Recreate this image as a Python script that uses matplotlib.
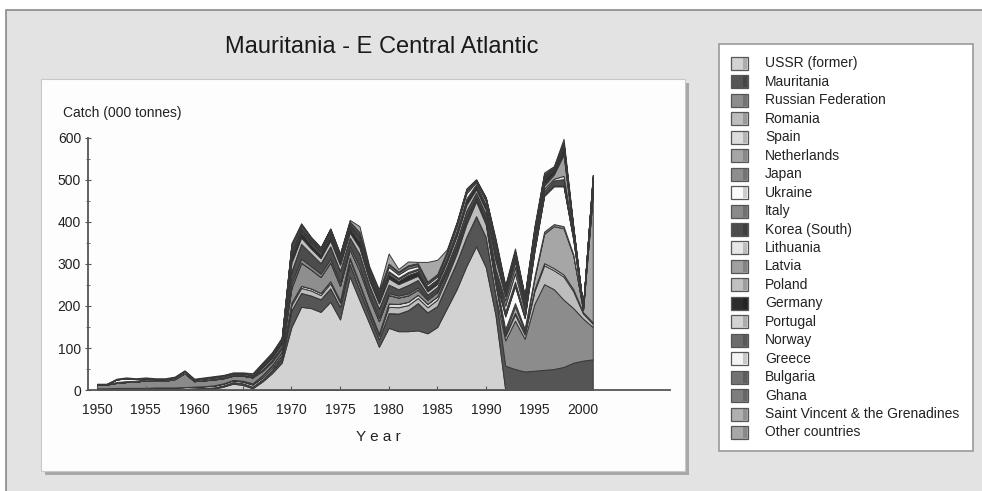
import matplotlib
matplotlib.use("Agg")
import matplotlib.pyplot as plt
from matplotlib.patches import Rectangle

# ---- data (000 tonnes), years 1950-2001 ----
years = list(range(1950, 2002))

ussr = [0, 0, 0, 0, 0, 0, 0, 0, 0, 0,
        1, 2, 3, 8, 15, 12, 4, 20, 40, 65,
        150, 198, 195, 186, 210, 168, 270, 214, 159, 103,
        148, 140, 140, 142, 135, 150, 195, 240, 295, 342,
        292, 178, 0, 0, 0, 0, 0, 0, 0, 0,
        0, 0]
mauritania = [2, 2, 2, 2, 2, 2, 3, 3, 3, 3,
              3, 3, 3, 3, 4, 4, 4, 5, 6, 8,
              40, 33, 30, 30, 32, 30, 30, 25, 20, 18,
              35, 42, 50, 65, 50, 50, 58, 65, 70, 72,
              72, 48, 58, 50, 44, 46, 48, 50, 55, 65,
              70, 73]
russian_fed = [0, 0, 0, 0, 0, 0, 0, 0, 0, 0,
               0, 0, 0, 0, 0, 0, 0, 0, 0, 0,
               0, 0, 0, 0, 0, 0, 0, 0, 0, 0,
               0, 0, 0, 0, 0, 0, 0, 0, 0, 0,
               0, 0, 60, 115, 78, 159, 204, 190, 160, 130,
               100, 77]
romania = [0, 0, 0, 0, 0, 0, 0, 0, 0, 0,
           0, 0, 0, 0, 0, 0, 0, 0, 2, 5,
           12, 12, 12, 10, 12, 10, 10, 10, 8, 8,
           15, 15, 12, 12, 12, 15, 15, 20, 30, 35,
           30, 25, 10, 15, 10, 30, 45, 45, 55, 40,
           12, 8]
spain = [2, 2, 3, 3, 3, 3, 3, 3, 3, 4,
         4, 4, 4, 4, 4, 4, 5, 5, 5, 5,
         6, 5, 5, 5, 5, 5, 5, 5, 5, 5,
         8, 8, 8, 8, 8, 8, 6, 6, 5, 5,
         5, 5, 4, 4, 4, 5, 5, 5, 5, 5,
         3, 3]
netherlands = [0, 0, 0, 0, 0, 0, 0, 0, 0, 0,
               0, 0, 0, 0, 0, 0, 0, 0, 0, 0,
               0, 0, 0, 0, 0, 0, 0, 0, 0, 0,
               0, 0, 0, 0, 0, 0, 0, 0, 0, 0,
               0, 0, 5, 15, 5, 25, 70, 100, 110, 80,
               5, 300]
japan = [0, 0, 0, 0, 0, 0, 0, 0, 0, 0,
         0, 0, 1, 1, 1, 2, 3, 5, 6, 8,
         35, 55, 45, 38, 45, 35, 20, 30, 28, 30,
         20, 15, 15, 12, 10, 10, 8, 8, 8, 4,
         5, 10, 8, 8, 5, 5, 5, 5, 5, 3,
         1, 3]
ukraine = [0, 0, 0, 0, 0, 0, 0, 0, 0, 0,
           0, 0, 0, 0, 0, 0, 0, 0, 0, 0,
           0, 0, 0, 0, 0, 0, 0, 0, 0, 0,
           0, 0, 0, 0, 0, 0, 0, 0, 0, 0,
           0, 0, 30, 40, 25, 60, 85, 90, 95, 35,
           2, 15]
italy = [9, 9, 12, 14, 15, 18, 16, 16, 20, 33,
         13, 14, 14, 12, 10, 12, 14, 10, 8, 8,
         10, 10, 8, 8, 8, 8, 8, 10, 8, 8,
         5, 5, 5, 5, 4, 4, 4, 4, 4, 2,
         3, 5, 3, 3, 2, 2, 2, 2, 2, 1,
         0, 1]
korea = [0, 0, 0, 0, 0, 0, 0, 0, 0, 0,
         0, 0, 0, 0, 0, 0, 0, 3, 5, 5,
         30, 35, 30, 25, 30, 28, 20, 30, 22, 22,
         20, 15, 20, 18, 8, 8, 10, 12, 15, 10,
         12, 18, 8, 8, 6, 8, 10, 12, 15, 8,
         2, 8]
lithuania = [0, 0, 0, 0, 0, 0, 0, 0, 0, 0,
             0, 0, 0, 0, 0, 0, 0, 0, 0, 0,
             0, 0, 0, 0, 0, 0, 0, 0, 0, 0,
             0, 0, 0, 0, 0, 0, 0, 0, 0, 0,
             0, 0, 15, 20, 10, 10, 5, 4, 8, 3,
             0, 2]
latvia = [0, 0, 0, 0, 0, 0, 0, 0, 0, 0,
          0, 0, 0, 0, 0, 0, 0, 0, 0, 0,
          0, 0, 0, 0, 0, 0, 0, 0, 0, 0,
          0, 0, 0, 0, 0, 0, 0, 0, 0, 0,
          0, 0, 12, 15, 8, 8, 8, 10, 50, 5,
          1, 5]
poland = [0, 0, 0, 0, 0, 0, 0, 0, 0, 0,
          0, 0, 0, 0, 0, 0, 0, 5, 5, 6,
          20, 15, 12, 12, 14, 14, 12, 15, 12, 12,
          15, 12, 12, 10, 8, 8, 10, 12, 14, 8,
          10, 20, 10, 12, 8, 6, 4, 3, 5, 2,
          0, 2]
germany = [0, 0, 0, 0, 0, 0, 0, 0, 0, 0,
           0, 1, 2, 2, 2, 2, 3, 5, 6, 8,
           15, 12, 10, 9, 10, 10, 10, 15, 10, 10,
           10, 8, 12, 10, 6, 6, 6, 8, 10, 8,
           8, 12, 5, 5, 4, 6, 10, 8, 10, 5,
           1, 6]
portugal = [1, 1, 2, 2, 2, 3, 3, 3, 3, 4,
            3, 3, 3, 3, 3, 3, 3, 3, 3, 3,
            5, 4, 4, 4, 5, 4, 4, 5, 4, 4,
            4, 4, 4, 4, 3, 3, 3, 3, 3, 2,
            3, 5, 3, 3, 2, 2, 2, 1, 2, 1,
            0, 1]
norway = [0, 0, 0, 0, 0, 0, 0, 0, 0, 0,
          0, 0, 0, 0, 0, 0, 0, 0, 0, 0,
          5, 4, 3, 3, 3, 3, 3, 5, 4, 4,
          3, 3, 3, 3, 2, 2, 2, 2, 2, 2,
          2, 4, 2, 2, 2, 2, 2, 2, 3, 1,
          0, 1]
greece = [0, 0, 6, 7, 4, 2, 1, 1, 1, 1,
          1, 1, 1, 1, 1, 1, 1, 1, 1, 1,
          5, 3, 3, 3, 3, 3, 3, 4, 3, 3,
          10, 8, 8, 6, 6, 6, 8, 10, 12, 5,
          8, 12, 5, 6, 4, 4, 3, 1, 2, 1,
          0, 1]
bulgaria = [0, 0, 0, 0, 0, 0, 0, 0, 0, 0,
            0, 0, 0, 0, 0, 0, 0, 0, 0, 0,
            10, 6, 5, 4, 5, 4, 5, 6, 5, 5,
            6, 5, 6, 5, 4, 4, 4, 5, 6, 4,
            5, 10, 4, 5, 3, 2, 2, 1, 2, 1,
            0, 1]
ghana = [0, 0, 0, 0, 0, 0, 0, 0, 0, 0,
         0, 0, 0, 0, 0, 0, 0, 0, 0, 0,
         2, 2, 1, 1, 1, 1, 1, 2, 2, 2,
         2, 2, 2, 2, 2, 2, 2, 2, 2, 1,
         2, 3, 2, 2, 1, 1, 1, 0, 1, 0,
         0, 0]
st_vincent = [0, 0, 0, 0, 0, 0, 0, 0, 0, 0,
              0, 0, 0, 0, 0, 0, 0, 0, 0, 0,
              0, 0, 0, 0, 0, 0, 0, 0, 0, 0,
              0, 0, 0, 0, 0, 0, 0, 0, 0, 0,
              0, 0, 2, 3, 2, 4, 3, 2, 5, 2,
              0, 2]
other = [1, 1, 2, 2, 2, 2, 2, 2, 2, 2,
         2, 2, 2, 2, 2, 2, 3, 3, 3, 3,
         5, 3, 2, 2, 2, 2, 4, 14, 5, 6,
         24, 6, 9, 3, 47, 34, 4, 3, 4, 2,
         2, 6, 4, 6, 2, 5, 4, 2, 8, 2,
         0, 3]

countries = ["USSR (former)", "Mauritania", "Russian Federation", "Romania",
             "Spain", "Netherlands", "Japan", "Ukraine", "Italy",
             "Korea (South)", "Lithuania", "Latvia", "Poland", "Germany",
             "Portugal", "Norway", "Greece", "Bulgaria", "Ghana",
             "Saint Vincent & the Grenadines", "Other countries"]
series = [ussr, mauritania, russian_fed, romania, spain, netherlands, japan,
          ukraine, italy, korea, lithuania, latvia, poland, germany, portugal,
          norway, greece, bulgaria, ghana, st_vincent, other]
colors = ["#d2d2d2", "#555555", "#8c8c8c", "#bdbdbd", "#dcdcdc", "#a6a6a6",
          "#8e8e8e", "#fbfbfb", "#8a8a8a", "#4c4c4c", "#e6e6e6", "#a0a0a0",
          "#c0c0c0", "#2c2c2c", "#d2d2d2", "#6c6c6c", "#f4f4f4", "#727272",
          "#7e7e7e", "#b0b0b0", "#a8a8a8"]

W, H = 982, 491
plt.rcParams['font.family'] = ['Liberation Sans', 'DejaVu Sans']
fig = plt.figure(figsize=(W / 100, H / 100), dpi=100, facecolor="white")


def px_rect(x0, y0, x1, y1, **kw):
    # rectangle given in pixel coords measured from the top left
    return Rectangle((x0 / W, 1 - y1 / H), (x1 - x0) / W, (y1 - y0) / H,
                     transform=fig.transFigure, **kw)


# background panels (kept below the axes)
fig.patches.append(px_rect(6, 10, 990, 500, facecolor="#e3e3e3",
                           edgecolor="#8a8a8a", lw=1.2, zorder=-10))
fig.patches.append(px_rect(45, 83, 689, 475, facecolor="#a8a8a8", lw=0,
                           zorder=-9))
fig.patches.append(px_rect(41, 79, 685, 471, facecolor="#fdfdfd",
                           edgecolor="#c8c8c8", lw=0.8, zorder=-8))
fig.patches.append(px_rect(719, 44, 973, 451, facecolor="white",
                           edgecolor="#9a9a9a", lw=1.2, zorder=-8))

fig.text(382 / W, 1 - 47 / H, "Mauritania - E Central Atlantic",
         ha="center", va="center", fontsize=17, color="#1a1a1a")

# main axes
ax = fig.add_axes([88 / W, 1 - 390 / H, (670 - 88) / W, (390 - 138) / H])
ax.set_zorder(5)
ax.patch.set_alpha(0)
ax.stackplot(years, *series, colors=colors, edgecolor="#383838", linewidth=0.7)

ax.set_xlim(1949.07, 2008.95)
ax.set_ylim(0, 600)
ax.set_xticks(range(1950, 2001, 5))
ax.set_yticks(range(0, 601, 100))
ax.set_yticks(range(50, 600, 100), minor=True)
for s in ["top", "right"]:
    ax.spines[s].set_visible(False)
for s in ["left", "bottom"]:
    ax.spines[s].set_color("#555555")
    ax.spines[s].set_linewidth(1.3)
ax.tick_params(axis="x", direction="in", length=3, color="#555555",
               labelsize=10, pad=9, labelcolor="#222222")
ax.tick_params(axis="y", which="major", direction="inout", length=4,
               color="#555555", labelsize=10, pad=3, labelcolor="#222222")
ax.tick_params(axis="y", which="minor", direction="inout", length=3,
               color="#555555")

fig.text(63 / W, 1 - 113 / H, "Catch (000 tonnes)", ha="left", va="center",
         fontsize=10, color="#222222")
fig.text(378 / W, 1 - 437 / H, "Y e a r", ha="center", va="center",
         fontsize=11, color="#222222")

# legend drawn by hand to match the boxed swatches
for i, (name, col) in enumerate(zip(countries, colors)):
    yc = 63.5 + i * 18.45
    fig.patches.append(px_rect(731, yc - 6.5, 748, yc + 6.5, facecolor=col,
                               edgecolor="#555555", lw=0.9))
    fig.patches.append(px_rect(743, yc - 5.5, 747, yc + 5.5,
                               facecolor="#000000", alpha=0.18, lw=0))
    fig.text(765 / W, 1 - yc / H, name, ha="left", va="center",
             fontsize=10, color="#222222")

fig.savefig("out.png", dpi=100, facecolor=fig.get_facecolor())
